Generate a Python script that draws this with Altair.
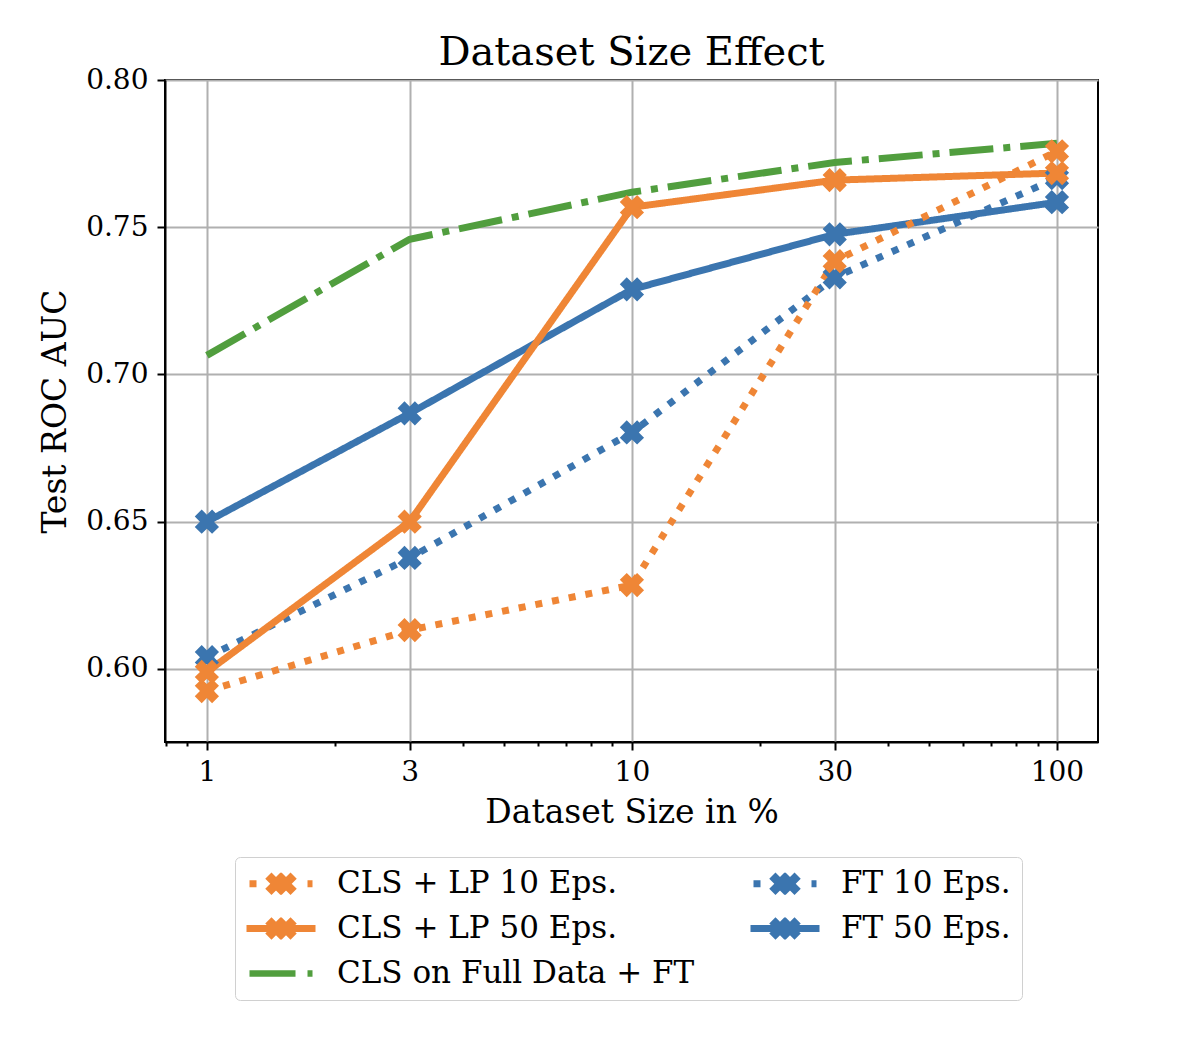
import altair as alt
import pandas as pd

tamanhos = [1, 3, 10, 30, 100]
series = ["CLS + LP 10 Eps.", "CLS + LP 50 Eps.", "CLS on Full Data + FT", "FT 10 Eps.", "FT 50 Eps."]
cls_lp_10 = [0.5925, 0.6132, 0.6285, 0.7385, 0.7758]
cls_lp_50 = [0.5990, 0.6500, 0.7568, 0.7660, 0.7684]
cls_full_ft = [0.7065, 0.7459, 0.7619, 0.7720, 0.7785]
ft_10 = [0.6040, 0.6377, 0.6803, 0.7330, 0.7667]
ft_50 = [0.6500, 0.6868, 0.7289, 0.7476, 0.7585]
ticks_maiores = [1, 3, 10, 30, 100]
ticks_menores = [0.8, 0.9, 1, 2, 3, 4, 5, 6, 7, 8, 9, 10, 20, 30, 40, 50, 60, 70, 80, 90, 100]

valores = {
    "CLS + LP 10 Eps.": cls_lp_10,
    "CLS + LP 50 Eps.": cls_lp_50,
    "CLS on Full Data + FT": cls_full_ft,
    "FT 10 Eps.": ft_10,
    "FT 50 Eps.": ft_50,
}
ordem = ["FT 10 Eps.", "FT 50 Eps.", "CLS + LP 10 Eps.", "CLS + LP 50 Eps.", "CLS on Full Data + FT"]

linhas = []
for nome in ordem:
    for t, v in zip(tamanhos, valores[nome]):
        linhas.append({"serie": nome, "tamanho": t, "auc": v, "ordem": ordem.index(nome)})
df = pd.DataFrame(linhas)

laranja = "#ef8636"
azul = "#3b75af"
verde = "#519e3e"
cores = [laranja, laranja, verde, azul, azul]
tracos = [[7, 10], [1, 0], [44, 10, 7, 10], [7, 10], [1, 0]]


# marcador "X" cheio, como o do matplotlib
def poligono_x(cx, L, w, u=1.0):
    base = [(L, w), (w, w), (w, L), (-w, L), (-w, w), (-L, w), (-L, -w), (-w, -w), (-w, -L), (w, -L), (w, -w), (L, -w)]
    pts = [(((x - y) / 2 ** 0.5 + cx) / u, ((x + y) / 2 ** 0.5) / u) for x, y in base]
    return "M" + "L".join(f"{x:.3f},{y:.3f}" for x, y in pts) + "Z"


def retangulo(x0, x1, h, u=1.0):
    x0, x1, h = x0 / u, x1 / u, h / u
    return f"M{x0:.3f},{-h:.3f}L{x1:.3f},{-h:.3f}L{x1:.3f},{h:.3f}L{x0:.3f},{h:.3f}Z"


marcador = poligono_x(0, 1, 0.4)

# simbolos da legenda (px relativos ao centro do simbolo, 15 px por unidade)
u = 15
xs_leg = poligono_x(15, 11.5, 4.4, u) + poligono_x(24, 11.5, 4.4, u)
sim_pontilhado = retangulo(-12, -5, 3.5, u) + retangulo(46, 51, 3.5, u) + xs_leg
sim_solido = retangulo(-15, 54, 3.5, u) + xs_leg
sim_tracoponto = retangulo(-12, 34, 3.3, u) + retangulo(46, 51, 3.3, u)
simbolos = [sim_pontilhado, sim_solido, sim_tracoponto, sim_pontilhado, sim_solido]

fonte = "DejaVu Serif"
teste_maior = "indexof([1,3,10,30,100], datum.value) >= 0"

eixo_x = alt.X(
    "tamanho:Q",
    scale=alt.Scale(type="log", domain=[0.797, 124.9], nice=False),
    axis=alt.Axis(
        title="Dataset Size in %",
        values=ticks_menores,
        format="~g",
        labelExpr=f"{teste_maior} ? datum.label : ''",
        tickSize={"condition": {"test": teste_maior, "value": 8}, "value": 4},
        gridOpacity={"condition": {"test": teste_maior, "value": 1}, "value": 0},
    ),
)
eixo_y = alt.Y(
    "auc:Q",
    scale=alt.Scale(domain=[0.5752, 0.80], nice=False, zero=False),
    axis=alt.Axis(title="Test ROC AUC", values=[0.60, 0.65, 0.70, 0.75, 0.80], format=".2f", tickSize=8),
)

legenda = alt.Legend(
    title=None,
    orient="none",
    legendX=70,
    legendY=777,
    columns=2,
    symbolSize=900,
    symbolStrokeWidth=0,
    symbolOpacity=1,
    labelFont=fonte,
    labelFontSize=31,
    labelColor="#000",
    labelLimit=600,
    labelOffset=60,
    rowPadding=13,
    columnPadding=55,
    padding=11,
    strokeColor="#d0d0d0",
    cornerRadius=5,
)
escala_cor = alt.Scale(domain=series, range=cores)
traco = alt.StrokeDash("serie:N", scale=alt.Scale(domain=series, range=tracos), legend=None)

base = alt.Chart(df)

# camada vazia so para desenhar a legenda com linha + marcador
chave = base.transform_filter("false").mark_point(filled=True).encode(
    x=eixo_x, y=eixo_y,
    color=alt.Color("serie:N", scale=escala_cor, legend=legenda),
    shape=alt.Shape("serie:N", scale=alt.Scale(domain=series, range=simbolos), legend=legenda),
)
linha = base.mark_line(strokeWidth=7).encode(
    x="tamanho:Q", y="auc:Q",
    color=alt.Color("serie:N", scale=escala_cor, legend=None),
    strokeDash=traco, detail="serie:N"
)
pontos = base.transform_filter(
    alt.datum.serie != "CLS on Full Data + FT"
).mark_point(shape=marcador, size=600, filled=True, opacity=1).encode(
    x="tamanho:Q", y="auc:Q", color=alt.Color("serie:N", scale=escala_cor, legend=None)
)

chart = alt.layer(chave, linha, pontos).properties(
    width=933,
    height=662,
    title=alt.TitleParams("Dataset Size Effect", font=fonte, fontSize=40, fontWeight="normal", color="#000", offset=-7),
    autosize=alt.AutoSizeParams(type="none"),
    padding={"left": 157, "top": 72, "right": 90, "bottom": 280},
).configure_axis(
    labelFont=fonte,
    labelFontSize=28,
    labelColor="#000",
    titleFont=fonte,
    titleFontSize=33,
    titleFontWeight="normal",
    titleColor="#000",
    domainColor="#000",
    domainWidth=2,
    tickColor="#000",
    tickWidth=2,
    gridColor="#b0b0b0",
    gridWidth=2,
).configure_axisY(
    labelPadding=9,
    titlePadding=13,
).configure_axisX(
    labelPadding=8,
    titlePadding=10,
).configure_view(
    stroke="#000",
    strokeWidth=2,
)

chart.save("out.html", embed_options={"renderer": "svg", "actions": False})
